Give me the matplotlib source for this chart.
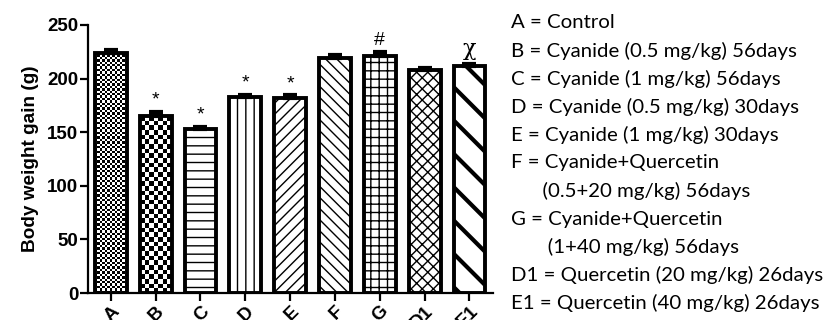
import numpy as np
import matplotlib
matplotlib.use("Agg")
import matplotlib.pyplot as plt

# data
groups = ["A", "B", "C", "D", "E", "F", "G", "D1", "E1"]
gain = [224, 165, 153, 183, 182, 219, 221, 208, 212]
sem = [3, 4, 2, 2, 2.5, 3, 4, 2, 2]
marks = ["", "*", "*", "*", "*", "", "#", "", "\u03c7"]
hatches = [None, None, "--", "||", "///", "\\\\\\", "++", "xxx", "\\"]
hatch_lw = [1, 1, 1.0, 1.0, 1.0, 1.0, 1.0, 1.0, 3.0]
checker_px = [2.4, 4.6, None, None, None, None, None, None, None]
legend_lines = [
    "A = Control",
    "B = Cyanide (0.5 mg/kg) 56days",
    "C = Cyanide (1 mg/kg) 56days",
    "D = Cyanide (0.5 mg/kg) 30days",
    "E = Cyanide (1 mg/kg) 30days",
    "F = Cyanide+Quercetin",
    "      (0.5+20 mg/kg) 56days",
    "G = Cyanide+Quercetin",
    "       (1+40 mg/kg) 56days",
    "D1 = Quercetin (20 mg/kg) 26days",
    "E1 = Quercetin (40 mg/kg) 26days",
]

plt.rcParams["font.family"] = ["Liberation Sans", "DejaVu Sans"]

fig = plt.figure(figsize=(8.29, 3.2), dpi=100)
ax = fig.add_axes([0.106, 0.084, 0.489, 0.838])

x = np.arange(len(groups))
faces = ["none" if c else "white" for c in checker_px]
bars = ax.bar(x, gain, width=0.71, color=faces, edgecolor="black",
              linewidth=2.8, zorder=2)
for b, h, lw in zip(bars, hatches, hatch_lw):
    if h:
        b.set_hatch(h)
        if hasattr(b, "set_hatch_linewidth"):
            b.set_hatch_linewidth(lw)

ax.errorbar(x, gain, yerr=[np.zeros(len(sem)), sem], fmt="none",
            ecolor="black", elinewidth=3, capsize=5, capthick=3, zorder=3)

ax.set_xlim(-0.51, 8.53)
ax.set_ylim(0, 250)

# checkerboard fills for A and B, clipped to the bars
fig.canvas.draw()
for b, cp in zip(bars, checker_px):
    if cp is None:
        continue
    x0, y0 = b.get_x(), b.get_y()
    x1, y1 = x0 + b.get_width(), y0 + b.get_height()
    p0 = ax.transData.transform((x0, y0))
    p1 = ax.transData.transform((x1, y1))
    nx = max(int(round((p1[0] - p0[0]) / cp)), 1)
    ny = max(int(round((p1[1] - p0[1]) / cp)), 1)
    board = (np.add.outer(np.arange(ny), np.arange(nx)) % 2).astype(float)
    im = ax.imshow(board, extent=(x0, x1, y0, y1), cmap="gray",
                   interpolation="nearest", aspect="auto", zorder=1.5,
                   vmin=0, vmax=1)
    im.set_clip_path(b)
ax.set_xlim(-0.51, 8.53)
ax.set_ylim(0, 250)

for xi, g, s, m in zip(x, gain, sem, marks):
    if m:
        fs = 14 if m != "\u03c7" else 16
        ax.text(xi, g + s + 3, m, ha="center", va="bottom", fontsize=fs,
                family=["DejaVu Serif"] if m == "\u03c7" else None)

ax.set_yticks([0, 50, 100, 150, 200, 250])
ax.set_xticks(x)
ax.set_xticklabels(groups, rotation=45, ha="right", rotation_mode="anchor",
                   fontweight="bold", fontsize=13.5)
for lab in ax.get_yticklabels():
    lab.set_fontweight("bold")
    lab.set_fontsize(13.5)
ax.set_ylabel("Body weight gain (g)", fontweight="bold", fontsize=13.7,
              labelpad=6)
ax.spines["top"].set_visible(False)
ax.spines["right"].set_visible(False)
ax.spines["left"].set_linewidth(1.6)
ax.spines["bottom"].set_linewidth(1.6)
ax.tick_params(width=1.6, length=6, direction="out", pad=1)

y_text = 0.93
for line in legend_lines:
    fig.text(0.617, y_text, line, fontsize=14.7, family=["Lato", "DejaVu Sans"],
             va="center", ha="left")
    y_text -= 0.0878

fig.savefig("out.png", dpi=100)
